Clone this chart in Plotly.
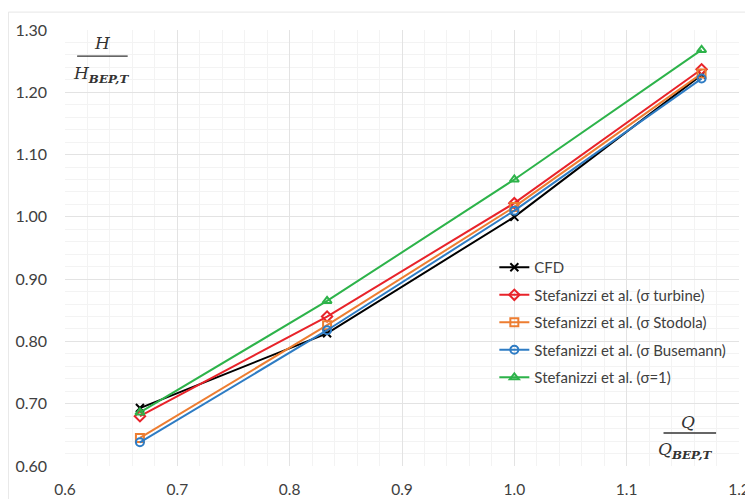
import plotly.graph_objects as go

q_ratio = [0.6667, 0.8333, 1.0, 1.1667]
cfd = [0.693, 0.813, 1.000, 1.228]
sigma_turbine = [0.680, 0.840, 1.022, 1.237]
sigma_stodola = [0.645, 0.826, 1.016, 1.230]
sigma_busemann = [0.638, 0.818, 1.010, 1.222]
sigma_one = [0.686, 0.865, 1.060, 1.268]

series = [
    ("CFD", cfd, "#000000", "x-thin-open"),
    ("Stefanizzi et al. (σ turbine)", sigma_turbine, "#e8232a", "diamond-open"),
    ("Stefanizzi et al. (σ Stodola)", sigma_stodola, "#ed7d31", "square-open"),
    ("Stefanizzi et al. (σ Busemann)", sigma_busemann, "#2e7cc4", "circle-open"),
    ("Stefanizzi et al. (σ=1)", sigma_one, "#2db34a", "triangle-up-open"),
]

fig = go.Figure()
for i, (name, ys, color, sym) in enumerate(series):
    fig.add_trace(go.Scatter(
        x=q_ratio, y=ys, name=name, mode="lines+markers",
        line=dict(color=color, width=2),
        marker=dict(symbol=sym, size=8, color=color, line=dict(color=color, width=2)),
        legendgroup=f"g{i}",
    ))

# page body adds an 8px offset, so the figure is 8px smaller and margins shifted
fig.update_layout(
    width=745, height=491,
    margin=dict(l=57, r=14, t=22, b=33),
    paper_bgcolor="white", plot_bgcolor="white",
    font=dict(family="Lato, Open Sans, sans-serif", color="#404040"),
    showlegend=True,
    legend=dict(x=0.637, y=0.493, xanchor="left", yanchor="top",
                bgcolor="rgba(0,0,0,0)", font=dict(size=15, color="#404040"),
                tracegroupgap=5, itemwidth=30),
    xaxis=dict(range=[0.6, 1.2], dtick=0.1, tickformat=".1f", automargin=False,
               ticklabeloverflow="allow",
               showgrid=True, gridcolor="#e3e3e3", gridwidth=1,
               minor=dict(dtick=0.02, showgrid=True, gridcolor="#f3f3f3"),
               zeroline=False, showline=False, ticks="",
               tickfont=dict(size=15.5, color="#404040"), ticklabelstandoff=12),
    yaxis=dict(range=[0.6, 1.3], dtick=0.1, tickformat=".2f", automargin=False,
               ticklabeloverflow="allow",
               showgrid=True, gridcolor="#e3e3e3", gridwidth=1,
               minor=dict(dtick=0.02, showgrid=True, gridcolor="#f3f3f3"),
               zeroline=False, showline=False, ticks="",
               tickfont=dict(size=16, color="#404040"), ticklabelstandoff=17),
)

# Axis label fractions (H / H_BEP,T and Q / Q_BEP,T)
serif = "DejaVu Serif, Liberation Serif, serif"
txt = "#333333"
ann = dict(xref="paper", yref="paper", showarrow=False, xanchor="center", yanchor="middle")
fig.add_annotation(**ann, x=0.056, y=0.970, text="<i>H</i>",
                   font=dict(family=serif, size=17, color=txt))
fig.add_shape(type="line", xref="paper", yref="paper", x0=0.018, x1=0.093, y0=0.940, y1=0.940,
              line=dict(color=txt, width=1.3))
fig.add_annotation(**ann, x=0.053, y=0.897,
                   text="<i>H</i><sub><i><b>BEP,T</b></i></sub>",
                   font=dict(family=serif, size=17, color=txt))

fig.add_annotation(**ann, x=0.925, y=0.101, text="<i>Q</i>",
                   font=dict(family=serif, size=17, color=txt))
fig.add_shape(type="line", xref="paper", yref="paper", x0=0.888, x1=0.966, y0=0.0757, y1=0.0757,
              line=dict(color=txt, width=1.3))
fig.add_annotation(**ann, x=0.921, y=0.036,
                   text="<i>Q</i><sub><i><b>BEP,T</b></i></sub>",
                   font=dict(family=serif, size=17, color=txt))

# Outer chart frame
fig.add_shape(type="rect", xref="paper", yref="paper", x0=-0.084, x1=1.016, y0=-0.1, y1=1.041,
              line=dict(color="#e6e6e6", width=1))

fig.write_html("out.html")
